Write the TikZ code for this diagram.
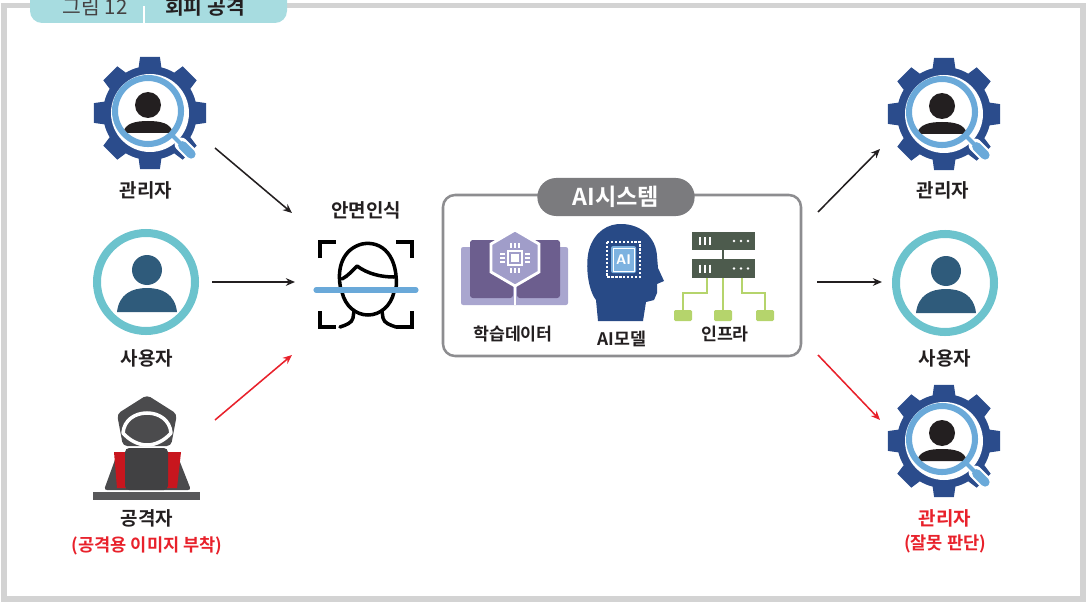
\documentclass[tikz,border=0pt]{standalone}
\usepackage{fontspec}
\setmainfont{Noto Sans CJK KR}[BoldFont={Noto Sans CJK KR Bold}]
\usetikzlibrary{arrows.meta}

\definecolor{ink}{HTML}{231F20}
\definecolor{framegray}{HTML}{D3D3D3}
\definecolor{tabteal}{HTML}{A7DCE0}
\definecolor{gearblue}{HTML}{2B4C8C}
\definecolor{lensblue}{HTML}{6AA9D9}
\definecolor{userteal}{HTML}{6CC3CD}
\definecolor{userblue}{HTML}{2F5B7B}
\definecolor{hoodgray}{HTML}{4B4B4D}
\definecolor{padgray}{HTML}{414143}
\definecolor{deskgray}{HTML}{58585A}
\definecolor{screenred}{HTML}{C8161E}
\definecolor{alertred}{HTML}{E8212B}
\definecolor{boxgray}{HTML}{8D8D90}
\definecolor{pillgray}{HTML}{7B7B7E}
\definecolor{coverpurple}{HTML}{A9A6CF}
\definecolor{pagepurple}{HTML}{6C5E8E}
\definecolor{hexpurple}{HTML}{A09DC9}
\definecolor{aihead}{HTML}{284A86}
\definecolor{chipblue}{HTML}{7DB2E0}
\definecolor{rackgray}{HTML}{4D5B4D}
\definecolor{netgreen}{HTML}{B5D46C}

% admin: gear with a magnifier over a person
\newcommand{\admicon}[2]{%
  \begin{scope}[shift={(#1,#2)}]
    \fill[gearblue] (-14:47) \foreach \a in {0,45,...,315} {
      -- (\a-10:57) -- (\a+10:57) -- (\a+14:47)
      arc[start angle=\a+14, end angle=\a+31, radius=47]} -- cycle;
    \fill[white] (0,0) circle (39);
    \begin{scope}[shift={(-2,-2)}]
      \draw[white, line width=9.5pt, line cap=round] (45:47) -- (45:61);
      \draw[lensblue, line width=3pt] (45:33) -- (45:48);
      \draw[lensblue, line width=6.4pt, line cap=round] (45:49) -- (45:61);
      \draw[lensblue, line width=4.3pt] (0,0) circle (33);
      \fill[ink] (0,-6) circle (13);
      \begin{scope}
        \clip (0,0) circle (30);
        \fill[ink] (-25,22) .. controls (-23,12) and (-12,10) .. (0,10)
          .. controls (12,10) and (23,12) .. (25,22) -- cycle;
      \end{scope}
    \end{scope}
  \end{scope}}

% plain user in a ring
\newcommand{\usricon}[2]{%
  \begin{scope}[shift={(#1,#2)}]
    \draw[userteal, line width=5.7pt] (0,0) circle (49);
    \fill[userblue] (1,-12) circle (15);
    \fill[userblue] (-29,30) .. controls (-27,12) and (-14,6) .. (1,6)
      .. controls (16,6) and (29,12) .. (31,30) -- cycle;
  \end{scope}}

\tikzset{
  lbl/.style={font=\bfseries\fontsize{13.5}{16}\selectfont, text=ink},
  redlbl/.style={font=\bfseries\fontsize{12.5}{15}\selectfont, text=alertred},
  sublbl/.style={font=\bfseries\fontsize{12.3}{15}\selectfont, text=ink},
  arr/.style={line width=1.1pt, -{Stealth[length=6.5pt,width=5.5pt]}},
}

\begin{document}
\begin{tikzpicture}[x=0.025cm, y=-0.025cm]
    \useasboundingbox (0,0) rectangle (1087,604);

    % frame and title tab
    \draw[framegray, line width=3.6pt] (4,5.5) rectangle (1083,599);
    \fill[tabteal, rounded corners=0.3cm] (30,-20) rectangle (287,23);
    \draw[white, line width=1.4pt] (144,6) -- (144,23);
    \node[anchor=base, font=\fontsize{14.5}{16}\selectfont, text=ink!85] (fig) at (95,15) {그림 12};
    \node[anchor=base, font=\bfseries\fontsize{14.5}{16}\selectfont, text=ink] (title) at (205,15) {회피 공격};

    % left column
    \admicon{150}{113}
    \node[lbl] (admL) at (146,190) {관리자};
    \usricon{146}{282}
    \node[lbl] (usrL) at (147,358) {사용자};

    % attacker at a laptop
    \fill[hoodgray, rounded corners=2pt] (104,490) -- (116,457) -- (178,457) -- (191,490) -- cycle;
    \fill[hoodgray, rounded corners=3pt] (147,395) -- (177,414) -- (171,446) -- (123,446) -- (117,414) -- cycle;
    \draw[white, line width=2.5pt, line join=round] (123,433) .. controls (124,420) and (135,413) .. (147,413)
      .. controls (159,413) and (170,420) .. (171,433)
      .. controls (165,440) and (156,445) .. (147,445)
      .. controls (138,445) and (129,440) .. (123,433) -- cycle;
    \fill[screenred] (114,452) -- (181,452) -- (177,488) -- (117,488) -- cycle;
    \fill[padgray, rounded corners=3pt] (125,448) rectangle (168,490);
    \fill[deskgray] (93,492) rectangle (200,500);
    \node[lbl] (atkL) at (147,518) {공격자};
    \node[redlbl] (atkS) at (147,546) {(공격용 이미지 부착)};

    % face recognition
    \node[lbl] (faceL) at (366,210) {안면인식};
    \begin{scope}[line width=2.85pt]
        \draw (320,258) -- (320,242) -- (336,242);
        \draw (396,242) -- (412,242) -- (412,258);
        \draw (320,311) -- (320,327) -- (336,327);
        \draw (396,327) -- (412,327) -- (412,311);
    \end{scope}
    \begin{scope}[line width=2.5pt, line cap=round, line join=round]
        \draw (341,290) .. controls (336,268) and (343,249) .. (362,244)
          .. controls (382,240) and (399,256) .. (396,290);
        \draw (342,279) .. controls (348,276) and (353,270) .. (357,266)
          .. controls (368,274) and (381,277) .. (394,277);
        \draw (342,292) .. controls (345,306) and (356,315) .. (368,315)
          .. controls (380,315) and (391,306) .. (394,292);
        \draw (354,311) -- (353,318) .. controls (352,323) and (346,325) .. (340,327);
        \draw (382,311) -- (383,318) .. controls (384,323) and (390,325) .. (396,327);
    \end{scope}
    \draw[lensblue, line width=3.6pt, line cap=round] (316,290) -- (416,290);

    % AI system box
    \draw[boxgray, line width=1.8pt, rounded corners=0.3cm] (443,195) rectangle (801,356);
    \node[fill=pillgray, rounded corners=0.47cm, minimum width=3.93cm, minimum height=0.95cm,
          text=white, font=\bfseries\fontsize{16.5}{18}\selectfont] (aisys) at (616,197) {AI시스템};

    % training data: book with a chip
    \fill[coverpurple, rounded corners=1.5pt] (461,247) rectangle (568,305);
    \fill[pagepurple, rounded corners=2pt] (470,240) rectangle (513,298);
    \fill[pagepurple, rounded corners=2pt] (517,240) rectangle (560,298);
    \draw[white, line width=1.8pt] (515,282) -- (515,305);
    \fill[hexpurple, draw=white, line width=2pt]
        (515,230) -- (539,244) -- (539,272) -- (515,286) -- (491,272) -- (491,244) -- cycle;
    \draw[white, line width=1.4pt] (508,251) rectangle (522,265);
    \fill[white] (511,254) rectangle (519,262);
    \foreach \d in {-4,0,4} {
        \draw[white, line width=1.1pt] (515+\d,243) -- (515+\d,248);
        \draw[white, line width=1.1pt] (515+\d,268) -- (515+\d,273);
        \draw[white, line width=1.1pt] (500,258+\d) -- (505,258+\d);
        \draw[white, line width=1.1pt] (525,258+\d) -- (530,258+\d);
    }
    \node[sublbl] (dataL) at (513,334) {학습데이터};

    % AI model: head with a chip
    \fill[aihead] (598,321) -- (596,300) .. controls (588,290) and (585,265) .. (589,250)
        .. controls (594,232) and (608,223) .. (623,224)
        .. controls (642,225) and (656,238) .. (657,256) -- (658,268) -- (664,281)
        -- (657,284) -- (657,293) -- (654,300) -- (646,302) -- (643,321) -- cycle;
    \draw[white, line width=1.4pt, dash pattern=on 1.6pt off 1.2pt] (607,242) rectangle (640,277);
    \fill[chipblue, rounded corners=1.5pt] (611,246) rectangle (636,273);
    \draw[white, line width=0.6pt] (613,248) rectangle (634,271);
    \node[text=white, font=\bfseries\sffamily\fontsize{10}{10}\selectfont] (chip) at (623.5,259.5) {AI};
    \node[sublbl] (modelL) at (622,339) {AI모델};

    % infrastructure: server rack and network
    \fill[rackgray] (692,232) rectangle (755,250);
    \fill[rackgray] (692,259) rectangle (755,278);
    \draw[rackgray, line width=2pt] (723,250) -- (723,259);
    \foreach \ry in {241,268.5} {
        \foreach \bx in {700,705,710}
            \draw[white, line width=1.3pt] (\bx,\ry-4) -- (\bx,\ry+4);
        \foreach \dx in {734,741,748}
            \fill[white] (\dx,\ry) circle (1.3);
    }
    \begin{scope}[netgreen, line width=1.5pt]
        \draw (707,278) -- (707,293) -- (683,293) -- (683,311);
        \draw (723,278) -- (723,311);
        \draw (742,278) -- (742,293) -- (765,293) -- (765,311);
        \fill[rounded corners=1pt] (674,310) rectangle (692,321);
        \fill[rounded corners=1pt] (714,310) rectangle (732,321);
        \fill[rounded corners=1pt] (756,310) rectangle (774,321);
    \end{scope}
    \node[sublbl] (infraL) at (725,334) {인프라};

    % right column
    \admicon{944}{114}
    \node[lbl] (admR) at (943,190) {관리자};
    \usricon{945}{283}
    \node[lbl] (usrR) at (945,358) {사용자};
    \admicon{944}{441}
    \node[lbl, text=alertred] (admX) at (945,518) {관리자};
    \node[redlbl] (admS) at (945,544) {(잘못 판단)};

    % arrows
    \coordinate (a1) at (215,148);  \coordinate (b1) at (292,213);
    \coordinate (a2) at (212,282);  \coordinate (b2) at (295,282);
    \coordinate (a3) at (215,420);  \coordinate (b3) at (292,355);
    \coordinate (a4) at (818,212);  \coordinate (b4) at (880,149);
    \coordinate (a5) at (817,282);  \coordinate (b5) at (882,282);
    \coordinate (a6) at (818,355);  \coordinate (b6) at (880,420);
    \draw[arr, ink] (a1) -- (b1);
    \draw[arr, ink] (a2) -- (b2);
    \draw[arr, alertred] (a3) -- (b3);
    \draw[arr, ink] (a4) -- (b4);
    \draw[arr, ink] (a5) -- (b5);
    \draw[arr, alertred] (a6) -- (b6);
\end{tikzpicture}
\end{document}
